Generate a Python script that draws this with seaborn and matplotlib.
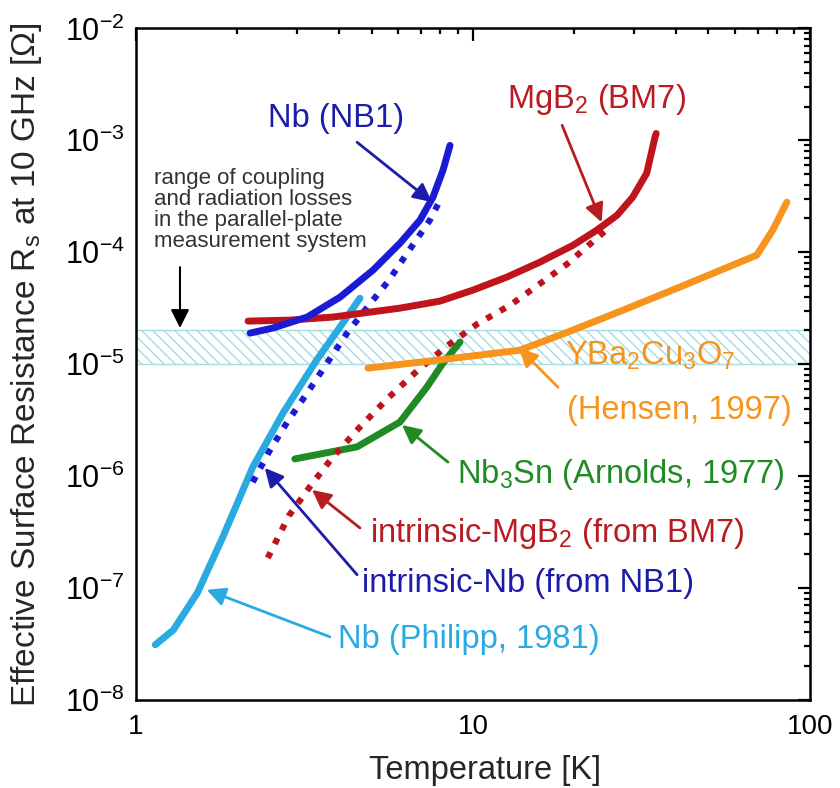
import numpy as np
import seaborn as sns
import matplotlib.pyplot as plt
from matplotlib.ticker import LogLocator, NullFormatter

# Nb (NB1) measured effective Rs
nb1_T = [2.18, 2.55, 3.22, 4.03, 5.05, 6.07, 6.96, 7.61, 8.15, 8.55]
nb1_R = [1.89e-5, 2.1e-5, 2.63e-5, 3.96e-5, 6.9e-5, 1.2e-4, 1.93e-4, 3.1e-4, 5.4e-4, 9.0e-4]

# MgB2 (BM7) measured effective Rs
mgb2_T = [2.15, 2.86, 3.84, 6.07, 7.98, 10.0, 12.6, 15.8, 19.8, 23.3, 26.8, 29.8, 32.8, 34.7, 35.0]
mgb2_R = [2.42e-5, 2.47e-5, 2.63e-5, 3.16e-5, 3.65e-5, 4.58e-5, 5.98e-5, 8.14e-5, 1.15e-4,
          1.57e-4, 2.14e-4, 3.1e-4, 5.07e-4, 1.06e-3, 1.15e-3]

# YBa2Cu3O7 (Hensen, 1997)
ybco_T = [4.88, 7.98, 13.8, 19.8, 27.9, 41.1, 69.6, 77.6, 85.5]
ybco_R = [9.2e-6, 1.09e-5, 1.33e-5, 2.01e-5, 3.03e-5, 4.87e-5, 9.4e-5, 1.57e-4, 2.8e-4]

# Nb3Sn (Arnolds, 1977)
nb3sn_T = [2.96, 4.53, 6.07, 7.30, 8.15, 9.15]
nb3sn_R = [1.42e-6, 1.82e-6, 3.03e-6, 6.23e-6, 1.02e-5, 1.57e-5]

# Nb (Philipp, 1981)
phil_T = [1.14, 1.29, 1.52, 1.81, 2.22, 2.73, 3.44, 4.03, 4.62]
phil_R = [3.1e-8, 4.2e-8, 9.0e-8, 2.85e-7, 1.2e-6, 3.65e-6, 1.09e-5, 2.14e-5, 3.88e-5]

# intrinsic Nb (from NB1)
inb_T = [2.22, 2.48, 2.81, 3.22, 3.69, 4.23, 4.78, 5.63, 6.41, 7.45, 7.98]
inb_R = [8.8e-7, 1.64e-6, 3.03e-6, 5.5e-6, 1.02e-5, 1.89e-5, 3.03e-5, 5.6e-5, 1.0e-4, 1.93e-4, 2.9e-4]

# intrinsic MgB2 (from BM7)
imgb2_T = [2.46, 2.84, 3.28, 3.82, 4.59, 5.60, 6.82, 8.37, 10.3, 12.9, 15.6, 19.0, 23.5, 25.8]
imgb2_R = [1.85e-7, 4.4e-7, 8.0e-7, 1.45e-6, 2.68e-6, 4.97e-6, 8.66e-6, 1.45e-5, 2.28e-5,
           3.36e-5, 5.07e-5, 7.8e-5, 1.36e-4, 1.74e-4]

# band of coupling / radiation losses
band_lo, band_hi = 1e-5, 2e-5

x_ticks = [1, 10, 100]
x_ticklabels = ['1', '10', '100']

sns.set_theme(style="white")
plt.rcParams['font.family'] = ['Liberation Sans', 'DejaVu Sans']
plt.rcParams['mathtext.fontset'] = 'custom'
plt.rcParams['mathtext.rm'] = 'Liberation Sans'
plt.rcParams['mathtext.it'] = 'Liberation Sans:italic'
plt.rcParams['mathtext.bf'] = 'Liberation Sans:bold'
plt.rcParams['hatch.linewidth'] = 1.0

c_blue = '#1b1bd6'
c_navy = '#1c1ca8'
c_red = '#c0141c'
c_red_txt = '#b81c22'
c_orange = '#f7941e'
c_green = '#1f8b24'
c_cyan = '#29abe2'

fig, ax = plt.subplots(figsize=(8.4, 7.88), dpi=100)
fig.subplots_adjust(left=0.162, right=0.964, bottom=0.112, top=0.964)
ax.set_xscale('log')
ax.set_yscale('log')

ax.axhspan(band_lo, band_hi, facecolor='white', edgecolor='#a6dbe0', hatch='\\\\\\', lw=1.0, zorder=0)

dots = dict(linewidth=4.5, linestyle=(0, (1, 1.5)), dash_capstyle='butt')
sns.lineplot(x=phil_T, y=phil_R, ax=ax, color=c_cyan, linewidth=5)
sns.lineplot(x=nb3sn_T, y=nb3sn_R, ax=ax, color=c_green, linewidth=5)
sns.lineplot(x=inb_T, y=inb_R, ax=ax, color=c_blue, **dots)
sns.lineplot(x=imgb2_T, y=imgb2_R, ax=ax, color=c_red, **dots)
sns.lineplot(x=ybco_T, y=ybco_R, ax=ax, color=c_orange, linewidth=5)
sns.lineplot(x=mgb2_T, y=mgb2_R, ax=ax, color=c_red, linewidth=5)
sns.lineplot(x=nb1_T, y=nb1_R, ax=ax, color=c_blue, linewidth=5)

ax.set_xlim(1, 100)
ax.set_ylim(1e-8, 1e-2)

fs = 23.5
def label(text, xy, xytext, color, tcolor=None, ha='left', va='baseline', tx=None):
    ax.annotate('', xy=xy, xytext=xytext,
                arrowprops=dict(arrowstyle='-|>', color=color, lw=2, mutation_scale=28,
                                shrinkA=0, shrinkB=0))
    if text:
        ax.text(tx[0], tx[1], text, color=tcolor or color, fontsize=fs, ha=ha, va=va)

label('Nb (NB1)', (7.56, 2.8e-4), (4.53, 9.6e-4), c_navy, ha='center', tx=(3.92, 1.31e-3))
label('MgB$_2$ (BM7)', (24.1, 1.85e-4), (18.4, 1.36e-3), c_red_txt, tx=(12.6, 1.93e-3))
label('', (13.7, 1.39e-5), (17.9, 6.2e-6), c_orange)
ax.text(18.75, 9.8e-6, 'YBa$_2$Cu$_3$O$_7$', color=c_orange, fontsize=fs)
ax.text(19.0, 3.88e-6, '(Hensen, 1997)', color=c_orange, fontsize=fs, va='center')
label('Nb$_3$Sn (Arnolds, 1977)', (6.16, 2.85e-6), (8.43, 1.33e-6), c_green, tx=(8.97, 8.66e-7))
label('intrinsic-MgB$_2$ (from BM7)', (3.33, 7.5e-7), (4.62, 3.43e-7), c_red_txt, tx=(4.95, 2.57e-7))
label('intrinsic-Nb (from NB1)', (2.41, 1.18e-6), (4.53, 1.31e-7), c_navy, tx=(4.68, 9.2e-8))
label('Nb (Philipp, 1981)', (1.62, 9.6e-8), (3.76, 3.65e-8), c_cyan, tx=(3.98, 2.91e-8))

ax.annotate('', xy=(1.35, 2.1e-5), xytext=(1.35, 7.35e-5),
            arrowprops=dict(arrowstyle='-|>', color='black', lw=1.5, mutation_scale=28,
                            shrinkA=0, shrinkB=0))
ax.text(1.13, 5.7e-4, 'range of coupling\nand radiation losses\nin the parallel-plate\nmeasurement system',
        color='#333333', fontsize=16, va='top', linespacing=1.0)

ax.set_xticks(x_ticks, labels=x_ticklabels)
ax.yaxis.set_major_locator(LogLocator(base=10, numticks=20))
for axis in (ax.xaxis, ax.yaxis):
    axis.set_minor_locator(LogLocator(base=10, subs=np.arange(2, 10), numticks=100))
    axis.set_minor_formatter(NullFormatter())

ax.tick_params(which='both', direction='in', top=True, right=True, colors='black', width=1.6)
ax.tick_params(which='major', length=9)
ax.tick_params(axis='x', which='major', pad=10, labelsize=20)
ax.tick_params(axis='y', which='major', pad=8, labelsize=22)
ax.tick_params(which='minor', length=4.5)
for sp in ax.spines.values():
    sp.set_linewidth(1.8)
    sp.set_color('black')

ax.set_xlabel('Temperature [K]', fontsize=23.5)
ax.set_ylabel('Effective Surface Resistance R$_\\mathrm{s}$ at 10 GHz [\u03a9]', fontsize=24)
ax.xaxis.set_label_coords(0.518, -0.082)
ax.yaxis.set_label_coords(-0.136, 0.5)

plt.savefig('out.png', dpi=100)
